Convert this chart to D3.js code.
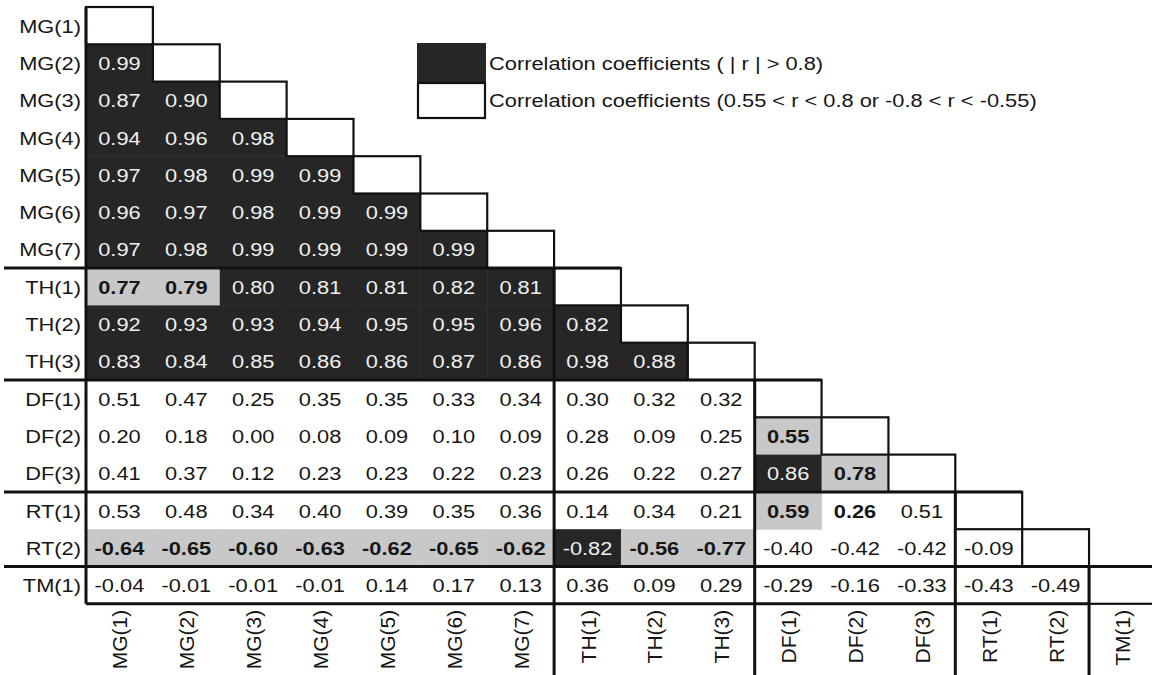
<!DOCTYPE html>
<html><head><meta charset="utf-8">
<script src="https://cdn.jsdelivr.net/npm/d3@7"></script>
<style>
html,body{margin:0;padding:0;background:#fff;}
svg{display:block;}
text{font-family:"Liberation Sans",Arial,sans-serif;}
</style></head>
<body>
<svg id="chart" width="1152" height="675"></svg>
<script>
// ---- data ----
const variables = ["MG(1)","MG(2)","MG(3)","MG(4)","MG(5)","MG(6)","MG(7)",
  "TH(1)","TH(2)","TH(3)","DF(1)","DF(2)","DF(3)","RT(1)","RT(2)","TM(1)"];
// lower-triangle rows (values for columns 0..i-1)
const rowMG2 = [0.99];
const rowMG3 = [0.87,0.90];
const rowMG4 = [0.94,0.96,0.98];
const rowMG5 = [0.97,0.98,0.99,0.99];
const rowMG6 = [0.96,0.97,0.98,0.99,0.99];
const rowMG7 = [0.97,0.98,0.99,0.99,0.99,0.99];
const rowTH1 = [0.77,0.79,0.80,0.81,0.81,0.82,0.81];
const rowTH2 = [0.92,0.93,0.93,0.94,0.95,0.95,0.96,0.82];
const rowTH3 = [0.83,0.84,0.85,0.86,0.86,0.87,0.86,0.98,0.88];
const rowDF1 = [0.51,0.47,0.25,0.35,0.35,0.33,0.34,0.30,0.32,0.32];
const rowDF2 = [0.20,0.18,0.00,0.08,0.09,0.10,0.09,0.28,0.09,0.25,0.55];
const rowDF3 = [0.41,0.37,0.12,0.23,0.23,0.22,0.23,0.26,0.22,0.27,0.86,0.78];
const rowRT1 = [0.53,0.48,0.34,0.40,0.39,0.35,0.36,0.14,0.34,0.21,0.59,0.26,0.51];
const rowRT2 = [-0.64,-0.65,-0.60,-0.63,-0.62,-0.65,-0.62,-0.82,-0.56,-0.77,-0.40,-0.42,-0.42,-0.09];
const rowTM1 = [-0.04,-0.01,-0.01,-0.01,0.14,0.17,0.13,0.36,0.09,0.29,-0.29,-0.16,-0.33,-0.43,-0.49];
const rows = [[],rowMG2,rowMG3,rowMG4,rowMG5,rowMG6,rowMG7,rowTH1,rowTH2,rowTH3,
  rowDF1,rowDF2,rowDF3,rowRT1,rowRT2,rowTM1];
const boldCells = [["RT(1)","DF(2)"]];
const legendLabels = ["Correlation coefficients ( | r | > 0.8)",
  "Correlation coefficients (0.55 < r < 0.8 or -0.8 < r < -0.55)"];

// ---- layout ----
const svg = d3.select("#chart");
const W = 1152, H = 675;
const x = d3.scaleBand().domain(variables).range([86, 86 + 16*66.87]).paddingInner(0).paddingOuter(0);
const y = d3.scaleBand().domain(variables).range([7, 7 + 16*37.3]).paddingInner(0).paddingOuter(0);
const bw = x.bandwidth(), bh = y.bandwidth();
const SX = 1.18, FS = 18.5;
const BLACK = "#262626", GRAY = "#c8c8c8";

const cells = [];
rows.forEach((vals, i) => vals.forEach((v, j) => {
  const a = Math.abs(v);
  const cls = a >= 0.8 ? "black" : (a >= 0.55 ? "gray" : "white");
  const bold = boldCells.some(b => b[0] === variables[i] && b[1] === variables[j]);
  cells.push({row: variables[i], col: variables[j], v, cls, bold});
}));

// fills
svg.append("g").selectAll("rect").data(cells.filter(d => d.cls !== "white")).join("rect")
  .attr("x", d => x(d.col)).attr("y", d => y(d.row))
  .attr("width", bw + 0.5).attr("height", bh + 0.5)
  .attr("fill", d => d.cls === "black" ? BLACK : GRAY);

// values
svg.append("g").selectAll("text").data(cells).join("text")
  .attr("transform", d => `translate(${x(d.col) + bw/2},${y(d.row) + bh/2 + 7}) scale(${SX},1)`)
  .attr("text-anchor", "middle")
  .attr("font-size", FS)
  .attr("font-weight", d => (d.cls === "gray" || d.bold) ? "bold" : "normal")
  .attr("fill", d => d.cls === "black" ? "#f0f0f0" : "#161616")
  .text(d => d.v.toFixed(2));

// diagonal boxes (staircase)
svg.append("g").selectAll("rect").data(variables).join("rect")
  .attr("x", d => x(d)).attr("y", d => y(d))
  .attr("width", bw).attr("height", bh)
  .attr("fill", "#fff").attr("stroke", "#111").attr("stroke-width", 2.2);

// group boundaries
const groupOf = v => v.slice(0, 2);
const starts = variables.filter((v, i) => i > 0 && groupOf(v) !== groupOf(variables[i-1]));
const lines = svg.append("g").attr("stroke", "#111").attr("stroke-width", 3).attr("fill", "none");
starts.forEach(v => {
  lines.append("line").attr("x1", 4).attr("x2", x(v) + bw).attr("y1", y(v)).attr("y2", y(v));
  lines.append("line").attr("x1", x(v)).attr("x2", x(v)).attr("y1", y(v)).attr("y2", H);
});
const last = variables[variables.length - 1];
lines.append("line").attr("x1", x(variables[0])).attr("x2", x(variables[0]))
  .attr("y1", y(variables[0])).attr("y2", y(last) + bh);
lines.append("line").attr("x1", x(variables[0])).attr("x2", x(last))
  .attr("y1", y(last) + bh).attr("y2", y(last) + bh);

// row labels
svg.append("g").selectAll("text").data(variables).join("text")
  .attr("transform", d => `translate(81,${y(d) + bh/2 + 7}) scale(${SX},1)`)
  .attr("text-anchor", "end").attr("font-size", FS).attr("fill", "#161616")
  .text(d => d);

// column labels
svg.append("g").selectAll("text").data(variables).join("text")
  .attr("transform", d => `translate(${x(d) + bw/2 + 8},${y(last) + bh + 6}) scale(0.92,1) rotate(-90)`)
  .attr("text-anchor", "end").attr("font-size", 21).attr("fill", "#161616")
  .text(d => d);

// legend
const lg = svg.append("g").attr("transform", "translate(417,43)");
lg.append("rect").attr("x", 0).attr("y", 0).attr("width", 69).attr("height", 40).attr("fill", BLACK);
lg.append("rect").attr("x", 1).attr("y", 40).attr("width", 67).attr("height", 35)
  .attr("fill", "#fff").attr("stroke", "#111").attr("stroke-width", 2.2);
lg.selectAll("text.lt").data(legendLabels).join("text").attr("class", "lt")
  .attr("transform", (d, i) => `translate(72,${27 + i*36.5}) scale(${SX},1)`)
  .attr("font-size", FS).attr("fill", "#161616")
  .text(d => d);
</script>
</body></html>
